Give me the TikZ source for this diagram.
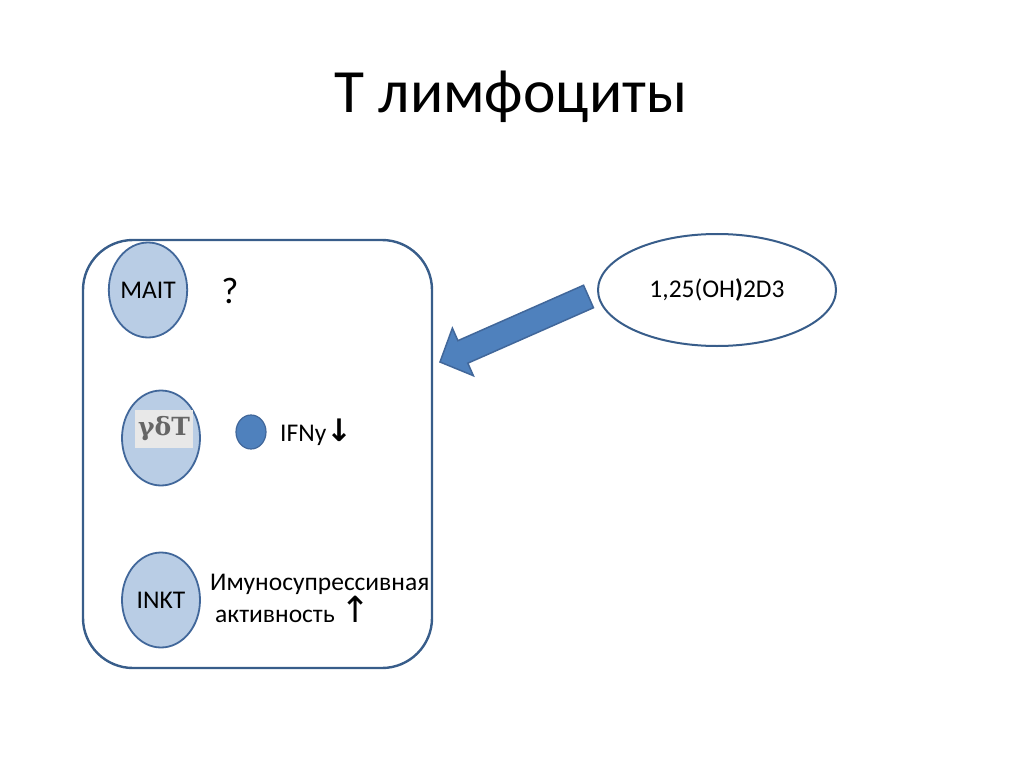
\documentclass[tikz,border=0pt]{standalone}
\usepackage{fontspec}
\setmainfont{Carlito}
\newfontfamily\arrowfont{DejaVu Sans}
\newfontfamily\greekfont{DejaVu Serif}
\usetikzlibrary{shapes.geometric,calc}
\definecolor{cellfill}{HTML}{B9CDE5}
\definecolor{celledge}{HTML}{41679A}
\definecolor{boxedge}{HTML}{385D8A}
\definecolor{dotfill}{HTML}{4F81BD}

\begin{document}
\begin{tikzpicture}[x=1pt,y=-1pt,
  cell/.style={ellipse,draw=celledge,line width=1.8pt,fill=cellfill,
    minimum width=78pt,minimum height=95pt,inner sep=0pt,
    font=\fontsize{25.5}{30}\selectfont},
  lbl/.style={font=\fontsize{25.5}{30}\selectfont,inner sep=0pt}]
  \useasboundingbox (0,0) rectangle (1024,767);
  \node[font=\fontsize{61.5}{70}\selectfont,anchor=base,inner sep=0pt] (title) at (511,113) {T лимфоциты};
  % the box of T cells
  \node[draw=boxedge,line width=2.4pt,rounded corners=50pt,
    minimum width=349pt,minimum height=428pt,inner sep=0pt] (cellbox) at (257.5,454) {};
  \foreach \n/\x/\y/\t in {mait/148/290/MAIT,inkt/161/600/INKT}
    \node[cell] (\n) at (\x,\y) {\t};
  \node[cell] (gdt) at (161,438) {};
  \node[fill=gray!18,minimum width=58pt,minimum height=38pt,inner sep=0pt,
    text=black!60,font=\greekfont\bfseries\fontsize{25}{28}\selectfont] (gdtimg) at (164,429) {γδT};
  \node[lbl,font=\fontsize{37}{40}\selectfont] (q) at (230,291) {?};
  \node[ellipse,draw=celledge,line width=1.2pt,fill=dotfill,
    minimum width=30pt,minimum height=34pt,inner sep=0pt] (dot) at (251,432) {};
  \node[lbl,anchor=base west] (ifn) at (280,441) {IFNy{\arrowfont\bfseries\fontsize{31}{31}\selectfont ↓}};
  \node[lbl,anchor=base west] (supp1) at (210,590) {Имуносупрессивная};
  \node[lbl,anchor=base west] (supp2) at (215,622) {активность {\arrowfont\fontsize{36}{36}\selectfont ↑}};
  % vitamin D
  \node[ellipse,draw=boxedge,line width=2pt,fill=white,
    minimum width=238pt,minimum height=112pt,inner sep=0pt] (vitd) at (717,290) {};
  \node[lbl] (vitdtxt) at (717,290) {1,25(OH\textbf{)}2D3};
  \coordinate (arrtip) at (440,362);
  \coordinate (arrtail) at (588.5,296.5);
  \coordinate (hb) at ($(arrtip)!25pt!(arrtail)$);
  \filldraw[fill=dotfill,draw=celledge,line width=1.5pt]
    (arrtip) -- ($(hb)!26pt!90:(arrtip)$) -- ($(hb)!12.3pt!90:(arrtip)$)
    -- ($(arrtail)!12.3pt!90:(hb)$) -- ($(arrtail)!12.3pt!-90:(hb)$)
    -- ($(hb)!12.3pt!-90:(arrtip)$) -- ($(hb)!26pt!-90:(arrtip)$) -- cycle;
\end{tikzpicture}
\end{document}
